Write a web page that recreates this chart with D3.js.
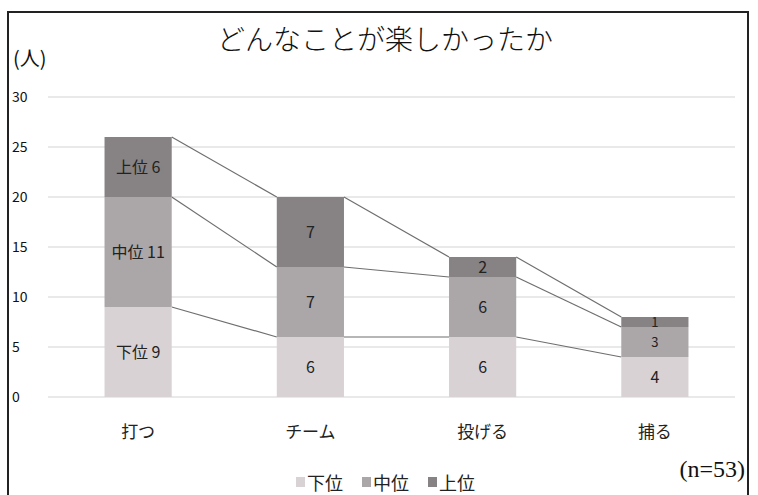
<!DOCTYPE html>
<html>
<head>
<meta charset="utf-8">
<script src="https://cdn.jsdelivr.net/npm/d3@7"></script>
<style>
  html, body { margin: 0; padding: 0; background: #fff; }
  svg { display: block; }
</style>
</head>
<body>
<svg id="chart" width="758" height="495"></svg>
<script>
// What students enjoyed, split by skill group
const categories = ["打つ", "チーム", "投げる", "捕る"];
const seriesNames = ["下位", "中位", "上位"];
const lowValues = [9, 6, 6, 4];
const midValues = [11, 7, 6, 3];
const highValues = [6, 7, 2, 1];
const yTicks = [0, 5, 10, 15, 20, 25, 30];
const firstBarLabels = ["下位 9", "中位 11", "上位 6"];

const colors = ["#d8d2d5", "#aba6a8", "#878283"];
const font = "'Noto Sans CJK JP', 'Noto Sans', sans-serif";

const svg = d3.select("#chart");

// frame
svg.append("rect").attr("x", 8).attr("y", 12).attr("width", 740).attr("height", 500)
  .attr("fill", "#fff").attr("stroke", "#222").attr("stroke-width", 2);

const x = d3.scaleBand().domain(categories).range([52, 741]).paddingInner(0.61).paddingOuter(0.305);
const y = d3.scaleLinear().domain([0, 30]).range([397, 97]);

// gridlines
svg.append("g").selectAll("line").data(yTicks).join("line")
  .attr("x1", 48).attr("x2", 735)
  .attr("y1", d => y(d)).attr("y2", d => y(d))
  .attr("stroke", "#d4d4d4").attr("stroke-width", 1.2);

// y tick labels
svg.append("g").selectAll("text").data(yTicks).join("text")
  .attr("x", 12).attr("y", d => y(d) + 5)
  .attr("font-family", font).attr("font-size", 14).attr("fill", "#111")
  .text(d => d);

svg.append("text").attr("x", 13).attr("y", 66)
  .attr("font-family", font).attr("font-size", 20).attr("fill", "#111").text("(人)");

// title
svg.append("text").attr("x", 385).attr("y", 50).attr("text-anchor", "middle")
  .attr("font-family", font).attr("font-weight", 300).attr("font-size", 28).attr("fill", "#111")
  .text("どんなことが楽しかったか");

// stack data
const rows = categories.map((c, i) => ({ cat: c, "下位": lowValues[i], "中位": midValues[i], "上位": highValues[i] }));
const stacked = d3.stack().keys(seriesNames)(rows);

// connector lines between tops of same segments
stacked.forEach(layer => {
  for (let i = 0; i < categories.length - 1; i++) {
    svg.append("line")
      .attr("x1", x(categories[i]) + x.bandwidth()).attr("y1", y(layer[i][1]))
      .attr("x2", x(categories[i + 1])).attr("y2", y(layer[i + 1][1]))
      .attr("stroke", "#6e6e6e").attr("stroke-width", 1.2);
  }
});

// bars
stacked.forEach((layer, si) => {
  svg.append("g").selectAll("rect").data(layer).join("rect")
    .attr("x", d => x(d.data.cat)).attr("width", x.bandwidth())
    .attr("y", d => y(d[1])).attr("height", d => y(d[0]) - y(d[1]))
    .attr("fill", colors[si]);
});

// value labels; thin segments get a smaller font
stacked.forEach((layer, si) => {
  svg.append("g").selectAll("text").data(layer).join("text")
    .attr("x", d => x(d.data.cat) + x.bandwidth() / 2)
    .attr("y", d => {
      const small = (d[1] - d[0]) <= 3 && d.data.cat === "捕る";
      return (y(d[0]) + y(d[1])) / 2 + (small ? 4.5 : 6);
    })
    .attr("text-anchor", "middle")
    .attr("font-family", font)
    .attr("font-size", d => ((d[1] - d[0]) <= 3 && d.data.cat === "捕る") ? 13 : 16)
    .attr("fill", "#222")
    .text((d, i) => i === 0 ? firstBarLabels[si] : (d[1] - d[0]));
});

// category labels
svg.append("g").selectAll("text").data(categories).join("text")
  .attr("x", d => x(d) + x.bandwidth() / 2).attr("y", 438)
  .attr("text-anchor", "middle")
  .attr("font-family", font).attr("font-size", 17).attr("fill", "#222")
  .text(d => d);

// legend
const legendX = [296, 362, 428];
seriesNames.forEach((s, i) => {
  svg.append("rect").attr("x", legendX[i]).attr("y", 477).attr("width", 9).attr("height", 10).attr("fill", colors[i]);
  svg.append("text").attr("x", legendX[i] + 11).attr("y", 490)
    .attr("font-family", font).attr("font-size", 18).attr("fill", "#222").text(s);
});

svg.append("text").attr("x", 745).attr("y", 477).attr("text-anchor", "end")
  .attr("font-family", "'Liberation Serif', 'DejaVu Serif', serif").attr("font-size", 24).attr("fill", "#111")
  .text("(n=53)");
</script>
</body>
</html>
